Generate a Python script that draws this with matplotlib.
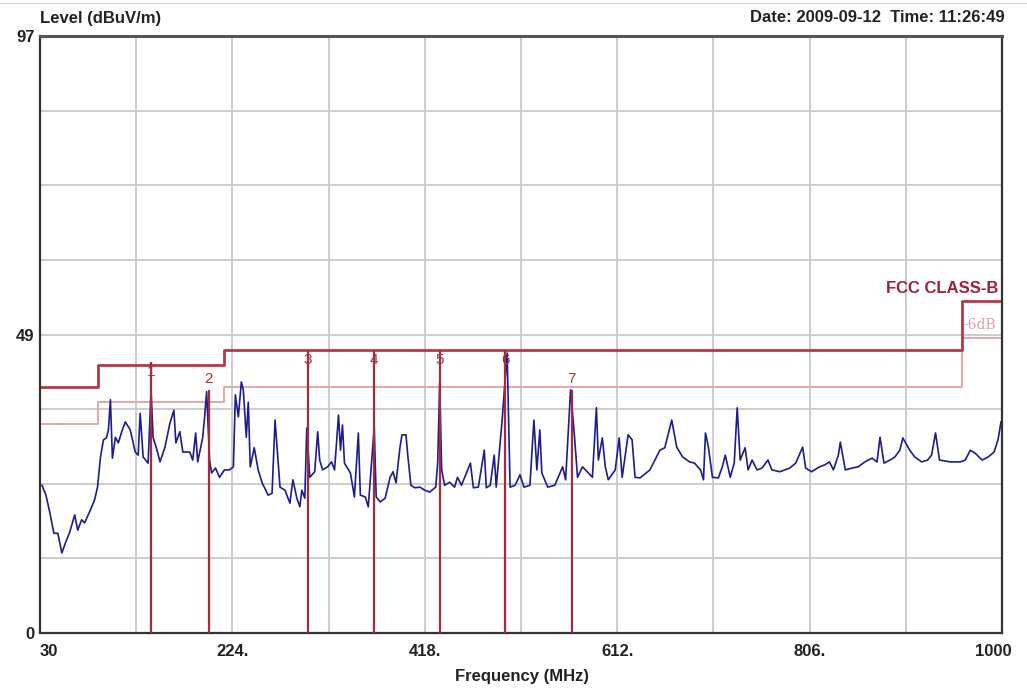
import matplotlib
matplotlib.use("Agg")
import matplotlib.pyplot as plt
import matplotlib.transforms as mtrans
from matplotlib.lines import Line2D

plt.rcParams['font.family'] = ['Liberation Sans', 'DejaVu Sans']

# measured trace (MHz, dBuV/m)
freq = [32, 36, 40, 44, 48, 52, 56, 60, 65, 68, 72, 75, 80, 85, 88, 91, 94, 97, 99, 101,
        103, 106, 109, 113, 116, 121, 126, 129, 131, 134, 139, 142, 144, 148, 151, 156, 161,
        165, 167, 171, 174, 181, 184, 187, 189, 194, 196, 198, 201, 203, 207, 211, 216, 221,
        225, 227, 230, 233, 235, 238, 240, 242, 246, 250, 254, 260, 264, 267, 270, 272, 277,
        282, 285, 289, 292, 294, 297, 299, 302, 307, 310, 312, 315, 320, 324, 327, 331, 333,
        335, 337, 343, 347, 351, 353, 358, 361, 367, 369, 373, 378, 383, 386, 389, 393, 395,
        399, 401, 404, 408, 413, 418, 423, 429, 431, 433, 435, 438, 443, 448, 451, 455, 460,
        464, 467, 472, 478, 480, 484, 488, 490, 496, 501, 504, 509, 514, 518, 524, 528, 531,
        534, 536, 542, 549, 557, 560, 565, 569, 572, 577, 583, 587, 591, 593, 597, 600, 603,
        610, 614, 617, 623, 627, 630, 635, 645, 655, 660, 667, 672, 678, 685, 690, 696, 699,
        701, 704, 708, 714, 718, 721, 726, 730, 733, 736, 741, 744, 748, 753, 758, 764, 768,
        776, 786, 792, 799, 802, 808, 816, 821, 826, 830, 835, 837, 842, 849, 855, 860, 865,
        869, 874, 877, 881, 887, 892, 897, 900, 907, 912, 919, 925, 929, 933, 937, 948, 958,
        963, 968, 973, 980, 986, 992, 996, 999]
level = [24.0, 22.4, 19.5, 16.2, 16.2, 13.0, 14.8, 16.4, 19.2, 16.7, 18.4, 17.9, 19.7, 21.6,
         23.7, 28.6, 31.4, 31.7, 33.0, 37.9, 28.4, 31.8, 30.9, 33.0, 34.3, 33.0, 29.4, 28.9,
         35.7, 28.6, 27.6, 39.5, 31.8, 29.7, 27.8, 30.2, 34.1, 36.2, 30.9, 32.7, 29.4, 29.4,
         28.1, 32.5, 27.8, 31.7, 35.1, 39.2, 28.1, 26.0, 26.8, 25.3, 26.5, 26.5, 27.0, 38.7,
         35.1, 40.8, 39.5, 31.8, 37.5, 27.0, 30.1, 26.5, 24.4, 22.4, 22.7, 34.6, 28.1, 23.7,
         23.2, 21.1, 24.9, 21.9, 20.5, 23.2, 21.9, 33.3, 25.3, 26.2, 32.7, 28.1, 26.5, 27.0,
         27.8, 26.5, 35.4, 29.7, 33.8, 27.6, 26.0, 22.1, 32.5, 22.4, 22.1, 20.5, 33.5, 22.1,
         21.3, 21.9, 25.3, 26.2, 24.4, 30.2, 32.2, 32.2, 28.6, 24.0, 23.6, 23.7, 23.2, 22.9,
         23.7, 27.6, 40.6, 26.5, 24.0, 24.5, 23.7, 25.3, 24.0, 26.0, 27.6, 23.6, 23.7, 29.7,
         23.6, 24.0, 28.9, 23.7, 34.6, 45.5, 23.7, 24.0, 25.7, 23.7, 24.0, 34.6, 26.5, 33.0,
         26.0, 23.7, 24.0, 27.0, 24.9, 39.5, 31.8, 25.3, 27.0, 26.0, 25.3, 36.6, 28.1, 31.7,
         27.0, 24.9, 26.5, 31.7, 25.3, 32.2, 31.4, 25.3, 25.2, 26.5, 29.7, 30.1, 34.6, 30.2,
         28.6, 27.8, 27.6, 26.5, 24.9, 32.5, 30.2, 25.3, 25.2, 27.0, 28.9, 25.3, 27.6, 36.6,
         28.1, 30.1, 26.5, 28.1, 26.5, 26.8, 28.1, 26.5, 26.2, 26.8, 27.6, 30.2, 26.8, 26.2,
         27.0, 27.3, 27.8, 26.5, 28.9, 31.0, 26.5, 26.8, 27.0, 27.6, 28.1, 28.4, 27.8, 31.8,
         27.6, 28.1, 28.6, 29.7, 31.7, 29.7, 28.6, 27.8, 28.1, 28.9, 32.5, 28.1, 27.8, 27.8,
         28.1, 29.7, 29.2, 28.1, 28.6, 29.4, 31.4, 34.3]

# FCC class B limit and -6 dB margin
limit_freq = [30, 88, 216, 960, 1000]
limit_level = [40, 43.5, 46, 54, 54]
margin_level = [34, 37.5, 40, 48, 48]

# markers
marker_freq = [142, 200, 300, 367, 433, 499, 566]
marker_level = [44.0, 39.5, 46.0, 46.0, 46.0, 46.0, 39.5]
marker_names = ['1', '2', '3', '4', '5', '6', '7']

xticks = [30 + 97 * i for i in range(11)]
xlabels = ['30', '', '224.', '', '418.', '', '612.', '', '806.', '', '1000']
yticks = [97 / 8 * i for i in range(9)]
ylabels = ['0', '', '', '', '49', '', '', '', '97']

fig = plt.figure(figsize=(10.27, 6.89), dpi=100)
ax = fig.add_axes([40 / 1027, 56 / 689, 962 / 1027, 597 / 689])

ax.set_xlim(30, 1000)
ax.set_ylim(0, 97)
ax.set_xticks(xticks)
ax.set_xticklabels(xlabels, fontsize=12, fontweight='bold', color='#222222')
ax.set_yticks(yticks)
ax.set_yticklabels(ylabels, fontsize=12, fontweight='bold', color='#222222')
ax.tick_params(length=0)
ax.tick_params(axis='x', pad=8)
ax.tick_params(axis='y', pad=4)
ax.grid(True, color='#c8c8c8', linewidth=1.3)
ax.set_axisbelow(True)

xl = ax.get_xticklabels()
xl[0].set_horizontalalignment('left')
xl[-1].set_horizontalalignment('right')
xl[-1].set_transform(xl[-1].get_transform() +
                     mtrans.ScaledTranslation(10 / 100, 0, fig.dpi_scale_trans))

for s in ax.spines.values():
    s.set_color('#333333')
    s.set_linewidth(1.6)
ax.spines['top'].set_linewidth(2.2)
ax.spines['top'].set_color('#555555')

ax.step(limit_freq, margin_level, where='post', color='#e6a6aa', linewidth=1.4, zorder=2)
ax.step(limit_freq, limit_level, where='post', color='#b83848', linewidth=2.0, zorder=2)

ax.plot(freq, level, color='#1c1c8e', linewidth=1.2, zorder=3)

for f, lv, name in zip(marker_freq, marker_level, marker_names):
    ax.vlines(f, 0, lv, color='#a42a3c', linewidth=1.6, zorder=4)
    ty = lv - 1.6 if lv >= 43 else lv + 1.8
    ax.text(f, ty, name, ha='center', va='center', fontsize=11, color='#9a3a3a', zorder=5)

ax.text(996, 56.0, 'FCC CLASS-B', ha='right', va='center', fontsize=12,
        fontweight='bold', color='#a0203a')
ax.text(994, 50.1, '-6dB', ha='right', va='center', fontsize=10,
        color='#e0a0a8', family='DejaVu Serif')

fig.text(40 / 1027, 1 - 18 / 689, 'Level (dBuV/m)', ha='left', va='center',
         fontsize=12, fontweight='bold', color='#222222')
fig.text(1005 / 1027, 1 - 17 / 689, 'Date: 2009-09-12  Time: 11:26:49', ha='right',
         va='center', fontsize=12, fontweight='bold', color='#222222')
fig.text(522 / 1027, 1 - 676 / 689, 'Frequency (MHz)', ha='center', va='center',
         fontsize=12, fontweight='bold', color='#222222')
fig.add_artist(Line2D([0, 1], [1 - 3 / 689, 1 - 3 / 689], transform=fig.transFigure,
                      color='#d8d8d8', linewidth=1.0))

fig.savefig('out.png', dpi=100)
